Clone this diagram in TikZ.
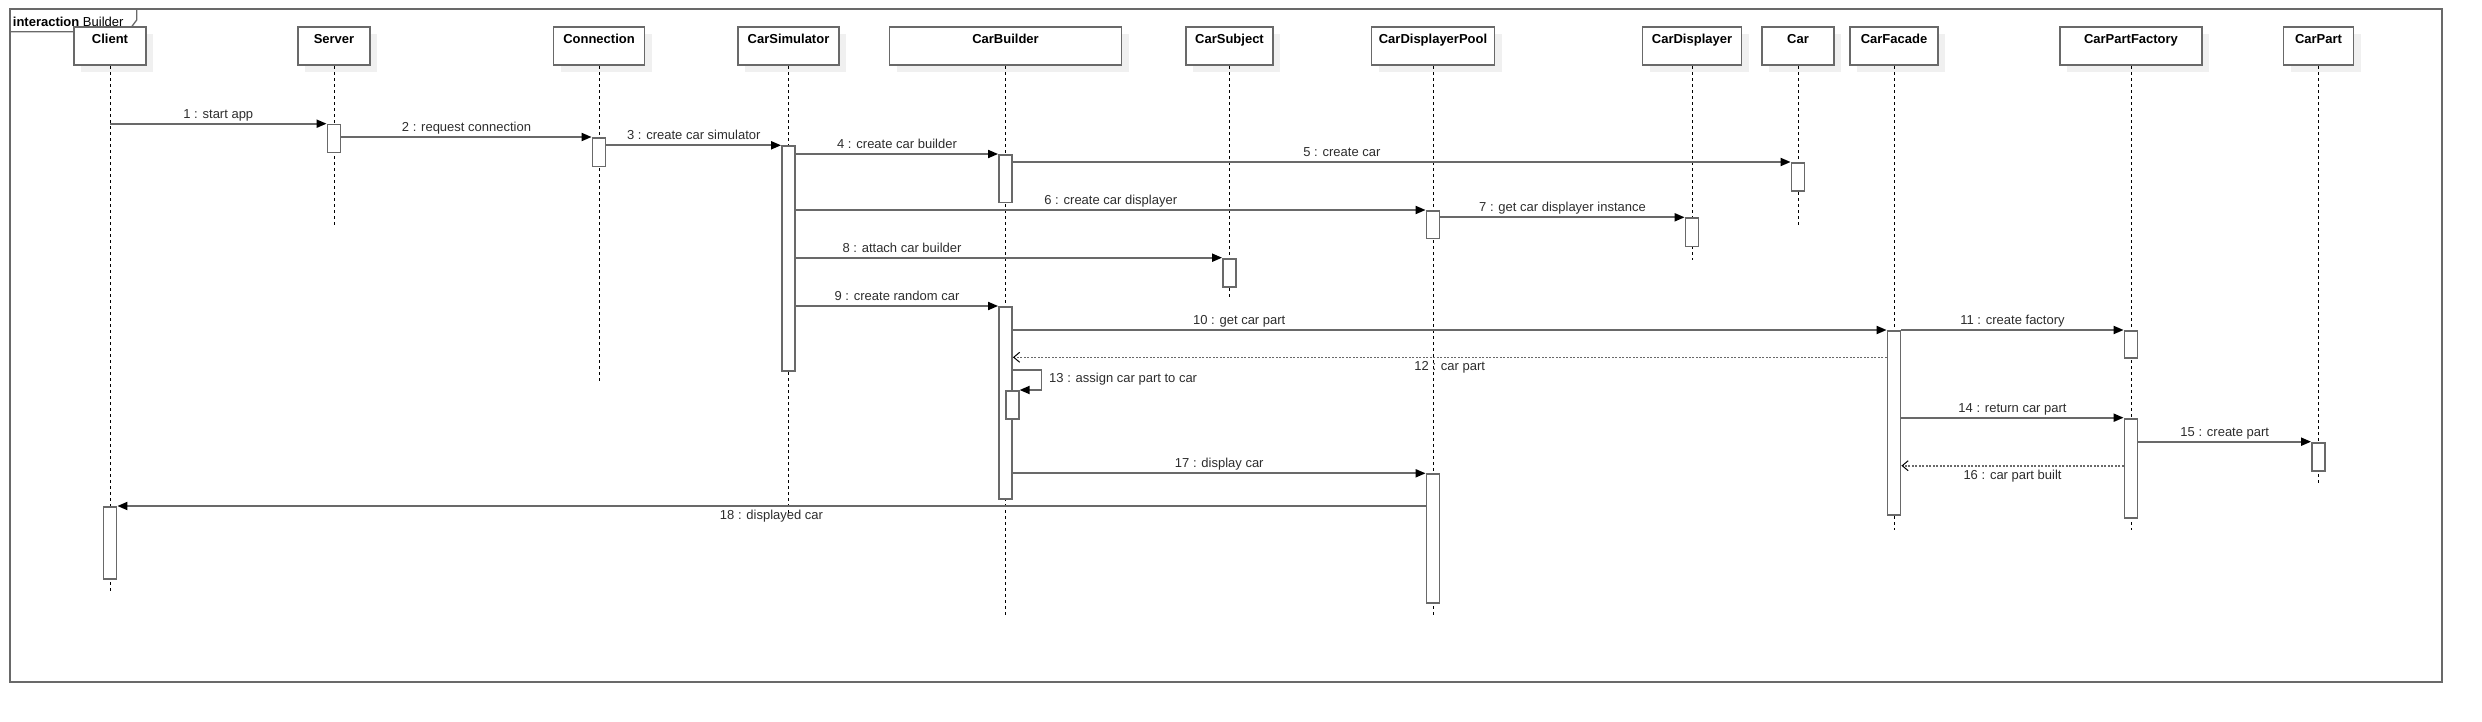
\documentclass[tikz,border=0pt]{standalone}
\usepackage{fontspec}
\setmainfont{Liberation Sans}
\usetikzlibrary{arrows.meta, shadows}
\definecolor{linegray}{RGB}{105,105,105}
\definecolor{textgray}{RGB}{45,45,45}
\tikzstyle{head} = [rectangle, 
anchor=north, 
minimum height=38.3pt, 
text height=10pt, 
text depth=14.3pt, 
inner xsep=0pt, 
inner ysep=7pt, 
draw=linegray, 
line width=1.8pt, 
fill=white, 
font=\fontsize{13}{15}\selectfont\bfseries, 
drop shadow={shadow xshift=7pt, shadow yshift=-7pt, fill=black!6, opacity=1}]
\tikzstyle{act} = [rectangle, 
anchor=north, 
minimum width=13pt, 
inner sep=0pt, 
draw=linegray, 
line width=1.8pt, 
fill=white]
\tikzstyle{life} = [black, line width=0.8pt, dash pattern=on 3pt off 3pt]
\tikzstyle{msg} = [linegray, line width=1.8pt, -{Triangle[length=10pt, width=8pt, color=black]}]
\tikzstyle{ret} = [linegray, line width=1.6pt, dash pattern=on 2pt off 1.5pt, -{Straight Barb[length=6pt, width=10pt, line width=1pt, color=black]}]
\tikzstyle{lbl} = [anchor=base, inner sep=0pt, text=textgray, font=\fontsize{13}{15}\selectfont]

\begin{document}
\begin{tikzpicture}[x=1pt, y=-1pt]
  \useasboundingbox (0,0) rectangle (2482,722);

  % frame
  \draw [linegray, line width=1.8pt] (10,9.3) rectangle (2442.3,681.7);
  \draw [linegray, line width=1.3pt] (10,31.7) -- (128,31.7) -- (136.7,20) -- (136.7,9.3);
  \node (frametitle) [anchor=base west, inner sep=0pt, font=\fontsize{13}{15}\selectfont] at (12.7,26.7) {\textbf{interaction} Builder};

  % lifeline heads
  \node (client) [head, minimum width=72pt] at (110,26) {Client};
  \node (server) [head, minimum width=72pt] at (334,26) {Server};
  \node (connection) [head, minimum width=91pt] at (599,26) {Connection};
  \node (carsim) [head, minimum width=101pt] at (788.5,26) {CarSimulator};
  \node (builder) [head, minimum width=232pt] at (1005.5,26) {CarBuilder};
  \node (subject) [head, minimum width=87pt] at (1229.5,26) {CarSubject};
  \node (pool) [head, minimum width=123pt] at (1433,26) {CarDisplayerPool};
  \node (displayer) [head, minimum width=99pt] at (1692,26) {CarDisplayer};
  \node (car) [head, minimum width=72pt] at (1798,26) {Car};
  \node (facade) [head, minimum width=88pt] at (1894,26) {CarFacade};
  \node (factory) [head, minimum width=142pt] at (2131,26) {CarPartFactory};
  \node (carpart) [head, minimum width=70pt] at (2318.5,26) {CarPart};

  % lifelines
  \draw [life] (client.south) -- (client.south |- 0,591.7);
  \draw [life] (server.south) -- (server.south |- 0,224.8);
  \draw [life] (connection.south) -- (connection.south |- 0,383);
  \draw [life] (carsim.south) -- (carsim.south |- 0,515);
  \draw [life] (builder.south) -- (builder.south |- 0,615);
  \draw [life] (subject.south) -- (subject.south |- 0,298);
  \draw [life] (pool.south) -- (pool.south |- 0,615);
  \draw [life] (displayer.south) -- (displayer.south |- 0,260);
  \draw [life] (car.south) -- (car.south |- 0,225);
  \draw [life] (facade.south) -- (facade.south |- 0,530);
  \draw [life] (factory.south) -- (factory.south |- 0,530);
  \draw [life] (carpart.south) -- (carpart.south |- 0,482.7);

  % activations
  \node (srvA) [act, minimum height=28pt] at (server.south |- 0,123.7) {};
  \node (conA) [act, minimum height=28.7pt] at (connection.south |- 0,137) {};
  \node (simA) [act, minimum height=224.7pt] at (carsim.south |- 0,145.3) {};
  \node (bldA) [act, minimum height=47.7pt] at (builder.south |- 0,154) {};
  \node (carA) [act, minimum height=28pt] at (car.south |- 0,162) {};
  \node (poolA) [act, minimum height=27.7pt] at (pool.south |- 0,210) {};
  \node (dspA) [act, minimum height=28.4pt] at (displayer.south |- 0,217.3) {};
  \node (subA) [act, minimum height=28.3pt] at (subject.south |- 0,257.7) {};
  \node (bldB) [act, minimum height=191.7pt] at (builder.south |- 0,306) {};
  \node (facA) [act, minimum height=184pt] at (facade.south |- 0,330) {};
  \node (fctA) [act, minimum height=27.3pt] at (factory.south |- 0,330) {};
  \node (bldC) [act, minimum height=28.3pt, xshift=6.7pt] at (builder.south |- 0,390) {};
  \node (fctB) [act, minimum height=99.6pt] at (factory.south |- 0,417.7) {};
  \node (prtA) [act, minimum height=28.3pt] at (carpart.south |- 0,441.7) {};
  \node (poolB) [act, minimum height=128.4pt] at (pool.south |- 0,473.3) {};
  \node (cliA) [act, minimum height=72pt] at (client.south |- 0,506) {};

  % messages
  \draw [msg] (client.south |- 0,123.7) -- node[lbl, yshift=5.5pt] {1 : start app} (srvA.north west);
  \draw [msg] (srvA.east |- 0,137) -- node[lbl, yshift=5.5pt] {2 : request connection} (conA.north west);
  \draw [msg] (conA.east |- 0,145.3) -- node[lbl, yshift=5.5pt] {3 : create car simulator} (simA.north west);
  \draw [msg] (simA.east |- 0,154) -- node[lbl, yshift=5.5pt] {4 : create car builder} (bldA.north west);
  \draw [msg] (bldA.east |- 0,162) -- node[lbl, pos=0.423, yshift=5.5pt] {5 : create car} (carA.north west);
  \draw [msg] (simA.east |- 0,210) -- node[lbl, yshift=5.5pt] {6 : create car displayer} (poolA.north west);
  \draw [msg] (poolA.east |- 0,217.3) -- node[lbl, yshift=5.5pt] {7 : get car displayer instance} (dspA.north west);
  \draw [msg] (simA.east |- 0,257.7) -- node[lbl, pos=0.249, yshift=5.5pt] {8 : attach car builder} (subA.north west);
  \draw [msg] (simA.east |- 0,306) -- node[lbl, yshift=5.5pt] {9 : create random car} (bldB.north west);
  \draw [msg] (bldB.east |- 0,330) -- node[lbl, pos=0.259, yshift=5.5pt] {10 : get car part} (facA.north west);
  \draw [msg] (facA.east |- 0,330) -- node[lbl, yshift=5.5pt] {11 : create factory} (fctA.north west);
  \draw [ret] (facA.west |- 0,357.3) -- node[lbl, yshift=-13.5pt] {12 : car part} (bldB.east |- 0,357.3);
  \draw [msg] (bldB.east |- 0,370) -- ++(28.5,0) |- (bldC.north east);
  \node (selflbl) [lbl, anchor=base west] at (1049,382.6) {13 : assign car part to car};
  \draw [msg] (facA.east |- 0,417.7) -- node[lbl, yshift=5.5pt] {14 : return car part} (fctB.north west);
  \draw [msg] (fctB.east |- 0,441.7) -- node[lbl, yshift=5.5pt] {15 : create part} (prtA.north west);
  \draw [ret] (fctB.west |- 0,465.7) -- node[lbl, yshift=-13.5pt] {16 : car part built} (facA.east |- 0,465.7);
  \draw [msg] (bldB.east |- 0,473.3) -- node[lbl, yshift=5.5pt] {17 : display car} (poolB.north west);
  \draw [msg] (poolB.west |- 0,506) -- node[lbl, yshift=-13.5pt] {18 : displayed car} (cliA.north east);

\end{tikzpicture}
\end{document}
